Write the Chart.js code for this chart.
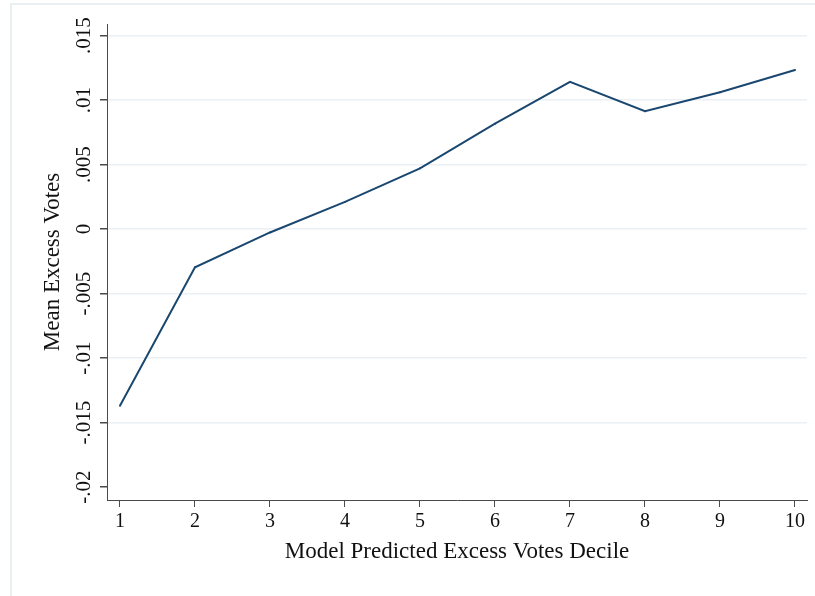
<!DOCTYPE html>
<html>
<head>
<meta charset="utf-8">
<script src="https://cdn.jsdelivr.net/npm/chart.js@4.4.1/dist/chart.umd.min.js"></script>
<style>
  html, body { margin: 0; padding: 0; background: #fff; }
  #wrap { position: relative; width: 815px; height: 596px; overflow: hidden; }
  #frame { position: absolute; left: 10px; top: 3px; width: 820px; height: 600px;
           border-left: 2px solid #eaf0f2; border-top: 2px solid #eaf0f2; box-sizing: border-box; }
  canvas { position: absolute; left: 0; top: 0; }
</style>
</head>
<body>
<div id="wrap">
  <div id="frame"></div>
  <canvas id="c" width="815" height="596"></canvas>
</div>
<script>
// Deciles of the model-predicted excess votes
const deciles = [1, 2, 3, 4, 5, 6, 7, 8, 9, 10];
// Mean excess votes within each decile
const meanExcessVotes = [-0.0137, -0.00296, -0.00026, 0.00211, 0.00471, 0.00817, 0.01141, 0.00914, 0.01061, 0.01234];
// Vertical axis ticks and their printed labels
const yTickValues = [0.015, 0.01, 0.005, 0, -0.005, -0.01, -0.015, -0.02];
const yTickLabels = ['.015', '.01', '.005', '0', '-.005', '-.01', '-.015', '-.02'];

const serif = '"Liberation Serif", "Times New Roman", serif';
const axisColor = '#4a4a4a';
const gridColor = '#eaf0f3';

// Vertical tick labels, written bottom-to-top and centred on each tick
const rotatedYLabels = {
  id: 'rotatedYLabels',
  afterDraw(chart) {
    const y = chart.scales.y;
    const ctx = chart.ctx;
    ctx.save();
    ctx.font = '21px ' + serif;
    ctx.fillStyle = '#111';
    ctx.textAlign = 'center';
    ctx.textBaseline = 'middle';
    y.ticks.forEach(t => {
      const idx = yTickValues.indexOf(t.value);
      const py = y.getPixelForValue(t.value);
      ctx.save();
      ctx.translate(y.right - 23, py);
      ctx.rotate(-Math.PI / 2);
      ctx.fillText(yTickLabels[idx], 0, 0);
      ctx.restore();
    });
    ctx.restore();
  }
};

new Chart(document.getElementById('c'), {
  type: 'line',
  data: {
    datasets: [{
      data: deciles.map((d, i) => ({ x: d, y: meanExcessVotes[i] })),
      borderColor: '#1a476f',
      borderWidth: 2,
      pointRadius: 1,
      pointBackgroundColor: '#1a476f',
      pointBorderWidth: 0,
      tension: 0,
      fill: false
    }]
  },
  options: {
    responsive: false,
    animation: false,
    devicePixelRatio: 1,
    layout: { padding: { left: 39, top: 24, right: 8, bottom: 30 } },
    plugins: { legend: { display: false }, tooltip: { enabled: false } },
    scales: {
      x: {
        type: 'linear',
        min: 0.827,
        max: 10.16,
        afterBuildTicks: s => { s.ticks = deciles.map(v => ({ value: v })); },
        afterFit: s => { s.height = 66; },
        grid: { drawOnChartArea: false, drawTicks: true, tickLength: 7, tickColor: axisColor },
        border: { color: axisColor, width: 1 },
        ticks: { color: '#111', font: { family: serif, size: 20 }, padding: 3, maxRotation: 0, autoSkip: false },
        title: { display: true, text: 'Model Predicted Excess Votes Decile', color: '#111',
                 font: { family: serif, size: 23 }, padding: { top: 0, bottom: 0 } }
      },
      y: {
        type: 'linear',
        min: -0.0210,
        max: 0.0159,
        afterBuildTicks: s => { s.ticks = yTickValues.map(v => ({ value: v })); },
        afterFit: s => { s.width = 68; },
        grid: {
          color: ctx => (ctx.tick && ctx.tick.value === -0.02) ? 'rgba(0,0,0,0)' : gridColor,
          lineWidth: 1.5,
          tickLength: 7,
          tickColor: axisColor
        },
        border: { color: axisColor, width: 1 },
        ticks: { display: false },
        title: { display: true, text: 'Mean Excess Votes', color: '#111',
                 font: { family: serif, size: 23 }, padding: { top: 0, bottom: 0 } }
      }
    }
  },
  plugins: [rotatedYLabels]
});
</script>
</body>
</html>
